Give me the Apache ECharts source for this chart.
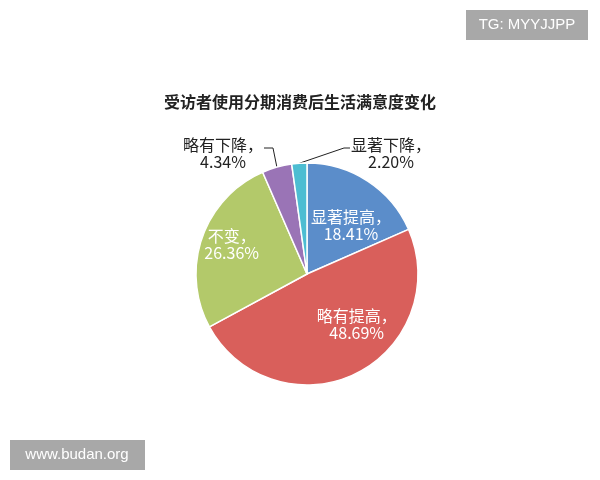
<!DOCTYPE html>
<html><head><meta charset="utf-8">
<script src="https://cdn.jsdelivr.net/npm/echarts@6/dist/echarts.min.js"></script>
<style>html,body{margin:0;padding:0;background:#fff}#c{width:600px;height:480px}</style>
</head><body><div id="c"></div>
<script>
var titleText = '受访者使用分期消费后生活满意度变化';
var categories = ['显著提高', '略有提高', '不变', '略有下降', '显著下降'];
var values = [18.41, 48.69, 26.36, 4.34, 2.20];
var colors = ['#5b8dca', '#d95f5b', '#b3c96a', '#9a74b6', '#4dbdd2'];
var FONT = '"Noto Sans CJK SC", "Noto Sans", sans-serif';

var chart = echarts.init(document.getElementById('c'), null, {renderer: 'canvas'});
var data = categories.map(function (n, i) {
  var inside = i < 3;
  return {
    name: n, value: values[i],
    itemStyle: {color: colors[i]},
    label: inside ? {position: 'inside', color: '#fff'} : {position: 'outside', color: '#222'},
    labelLine: {show: !inside}
  };
});
var insideShift = {0: [12, 0], 1: [24, -2], 2: [-20, -11]};
var outsidePos = {3: [223, 153, 'left'], 4: [391, 153, 'right']};
chart.setOption({
  backgroundColor: '#fff',
  animation: false,
  title: {
    text: titleText, left: 'center', top: 89,
    textStyle: {fontFamily: FONT, fontSize: 16, fontWeight: 'bold', color: '#222'}
  },
  graphic: [
    {type: 'rect', shape: {x: 466, y: 10, width: 122, height: 30}, style: {fill: '#a8a8a8'}},
    {type: 'text', x: 527, y: 25, style: {text: 'TG: MYYJJPP', fill: '#fff', font: '15px "Liberation Sans", Arial, sans-serif', textAlign: 'center', textVerticalAlign: 'middle'}},
    {type: 'rect', shape: {x: 10, y: 440, width: 135, height: 30}, style: {fill: '#a8a8a8'}},
    {type: 'text', x: 77, y: 455, style: {text: 'www.budan.org', fill: '#fff', font: '15px "Liberation Sans", Arial, sans-serif', textAlign: 'center', textVerticalAlign: 'middle'}}
  ],
  series: [{
    type: 'pie',
    center: [307, 274],
    radius: [0, 111],
    startAngle: 90,
    clockwise: true,
    avoidLabelOverlap: false,
    itemStyle: {borderColor: '#fff', borderWidth: 1.5},
    label: {
      formatter: function (p) { return p.name + '，\n' + p.value.toFixed(2) + '%'; },
      fontFamily: FONT, fontSize: 16, lineHeight: 17, align: 'center'
    },
    labelLine: {length: 12, length2: 8, lineStyle: {color: '#222', width: 1}},
    labelLayout: function (p) {
      var i = p.dataIndex;
      if (insideShift[i]) return {dx: insideShift[i][0], dy: insideShift[i][1]};
      var o = outsidePos[i];
      if (o) {
        var w = p.labelRect.width;
        var ly = o[1] - 5;
        var start = p.labelLinePoints ? p.labelLinePoints[0] : [o[0], o[1]];
        var pts;
        if (o[2] === 'left') {
          var ex = o[0] + w / 2 + 1;
          pts = [start, [ex + 9, ly], [ex, ly]];
        } else {
          var ex2 = o[0] - w / 2 - 1;
          pts = [start, [ex2 - 6, ly], [ex2, ly]];
        }
        return {x: o[0], y: o[1], align: 'center', verticalAlign: 'middle', labelLinePoints: pts};
      }
    },
    data: data
  }]
});
</script></body></html>
